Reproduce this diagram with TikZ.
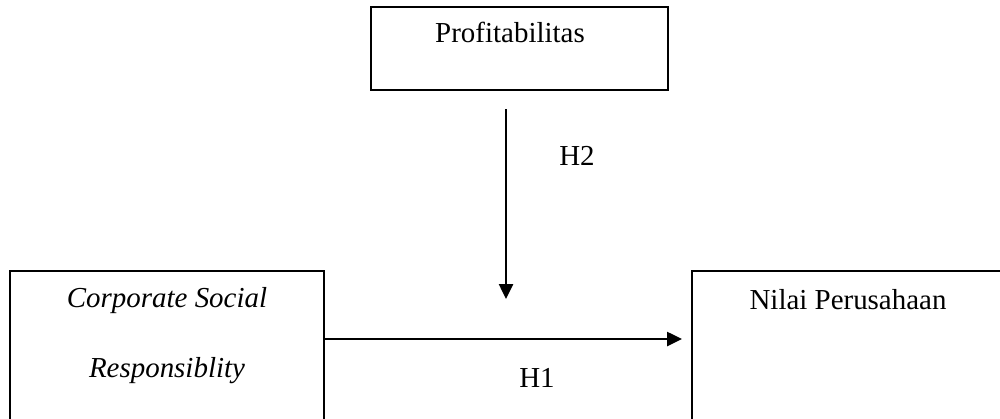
\documentclass[tikz,border=0pt]{standalone}
\usepackage{fontspec}
\setmainfont{Liberation Serif}
\usepackage{tikz}
\usetikzlibrary{arrows.meta, positioning, calc}
\newdimen\pxu
\pxu=0.01457cm

\begin{document}
\begin{tikzpicture}[x=\pxu, y=-\pxu, >={Triangle[length=6.2pt, width=5.8pt]},
    box/.style={draw, rectangle, line width=0.8pt, inner sep=0pt},
    lbl/.style={font=\fontsize{12}{14}\selectfont, anchor=base, inner sep=0pt},
    link/.style={->, line width=1pt}]
    \useasboundingbox (0,0) rectangle (1000,418);
    \clip (0,0) rectangle (1000,418);
    % kotak variabel
    \node[box, minimum width=297\pxu, minimum height=83\pxu] (profit) at (519.5,48.5) {};
    \node[box, minimum width=314\pxu, minimum height=169\pxu] (csr) at (167,355.5) {};
    \node[box, minimum width=312\pxu, minimum height=169\pxu] (nilai) at (848,355.5) {};
    % teks di dalam kotak
    \node[lbl] (profitText) at (510,42) {Profitabilitas};
    \node[lbl] (csrTextA) at (167,307) {\itshape Corporate Social};
    \node[lbl] (csrTextB) at (167,377) {\itshape Responsiblity};
    \node[lbl] (nilaiText) at (848,309) {Nilai Perusahaan};
    % titik ujung panah
    \coordinate (h2Start) at (506,109);
    \coordinate (h2End) at (506,299);
    \coordinate (h1End) at (682,339);
    % panah hipotesis
    \draw[link] (csr.east |- h1End) -- (h1End);
    \draw[link] (h2Start) -- (h2End);
    \node[lbl] (h2) at (577,165) {H2};
    \node[lbl] (h1) at (537,387) {H1};
\end{tikzpicture}
\end{document}
